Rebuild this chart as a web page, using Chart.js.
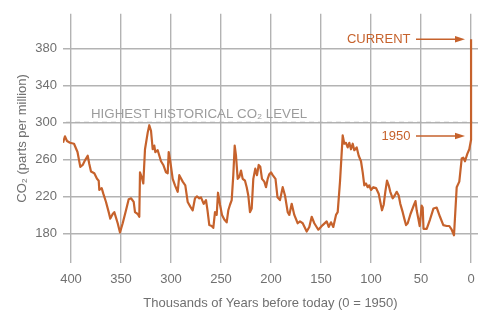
<!DOCTYPE html>
<html>
<head>
<meta charset="utf-8">
<script src="https://cdn.jsdelivr.net/npm/chart.js@4.4.1/dist/chart.umd.min.js"></script>
<style>
  html, body { margin: 0; padding: 0; background: #ffffff; }
  canvas { display: block; }
</style>
</head>
<body>
<canvas id="co2Chart" width="500" height="324"></canvas>
<script>
// Ice-core CO2 record: age in thousands of years before 1950, concentration in ppm
const years = [
  408, 406, 404, 401, 397, 393.5, 390.7, 388.3, 386, 383.3,
  381.7, 380, 376.7, 374, 372.3, 371.7, 369.3, 367.7, 365, 362.3,
  360.7, 358.3, 356.7, 353.3, 351, 348.3, 345, 342.3, 340, 337.3,
  336, 333.3, 331.7, 331, 329.3, 327.7, 326, 323.3, 321.7, 320,
  318.3, 316.7, 315.7, 313.3, 310, 307.7, 305, 303.3, 302.3, 300.7,
  298.3, 296, 293.3, 291.7, 288.3, 285.7, 283.3, 280.7, 278.3, 276,
  274, 271.7, 270, 267.3, 265, 263.5, 261.7, 259.3, 257.7, 256,
  254.3, 253, 251, 249, 246.7, 244.3, 242.7, 241, 239.3, 237.7,
  236.3, 235, 233.3, 231.7, 230, 228.3, 226, 224.3, 222.7, 221,
  219.3, 217.7, 215.7, 214, 212.3, 210.7, 209, 206.7, 205, 203.3,
  201.7, 200, 198.3, 195.5, 193.5, 191, 188.3, 186, 183.3, 181.7,
  179.3, 176.7, 173.3, 171, 168.3, 164.3, 161.7, 159.3, 156.7, 152.7,
  148.3, 144.3, 142.3, 140, 137.7, 135, 133.3, 131, 128.3, 126.7,
  125, 123.3, 121.7, 120, 118.3, 116.7, 114.3, 112.3, 110, 108.3,
  106.7, 105, 103.3, 101.7, 100, 97.7, 95, 92.3, 90.7, 89,
  87.3, 85.7, 84, 82.3, 80.7, 78.3, 76.3, 74.3, 72.3, 70.7,
  68.3, 66.7, 65, 63.3, 60.5, 57, 55.5, 54.3, 52.7, 51.3,
  49.3, 48.3, 47.5, 44.3, 41, 37.5, 34.3, 31, 27.7, 24.3,
  21.7, 19.3, 17, 14.3, 11.7, 9.3, 7.7, 6, 3.7, 1.7,
  0, -0.06
];
const co2 = [
  278, 285, 280, 278, 277, 268, 252, 254, 259, 264,
  255, 247, 245, 239, 237, 227, 229, 223, 214, 203,
  196, 201, 203, 191, 181, 191, 205, 217, 218, 214,
  203, 201, 198, 246, 241, 234, 271, 289, 297, 291,
  271, 275, 268, 270, 258, 254, 246, 245, 268, 258,
  239, 232, 225, 243, 236, 232, 214, 209, 205, 218,
  220, 218, 219, 212, 216, 205, 189, 188, 186, 203,
  200, 224, 211, 200, 195, 192, 205, 211, 216, 243,
  275, 264, 239, 241, 248, 239, 237, 230, 221, 203,
  207, 239, 250, 243, 254, 252, 239, 236, 230, 239,
  244, 246, 243, 239, 219, 216, 230, 221, 203, 200,
  212, 200, 191, 193, 191, 182, 187, 198, 191, 184,
  189, 193, 187, 192, 187, 200, 203, 236, 286, 277,
  278, 273, 278, 271, 277, 270, 273, 264, 258, 246,
  232, 234, 230, 232, 227, 230, 229, 223, 214, 205,
  211, 225, 237, 232, 225, 218, 221, 225, 221, 212,
  203, 196, 189, 191, 201, 211, 215, 205, 196, 188,
  210, 208, 185, 185, 195, 207, 208, 198, 189, 188,
  188, 184, 178, 230, 236, 261, 262, 258, 266, 271,
  281, 390
];

const yearTicks = [400, 350, 300, 250, 200, 150, 100, 50, 0];
const co2Ticks = [180, 220, 260, 300, 340, 380];
const highestLevel = 300;

const orange = '#c6622c';
const gridGray = '#b3b3b3';
const textGray = '#707070';
const fontFamily = '"Liberation Sans", Arial, Helvetica, sans-serif';

Chart.defaults.font.family = fontFamily;
Chart.defaults.font.size = 13;
Chart.defaults.color = textGray;

// Labels for the historical maximum and the two arrow callouts
const callouts = {
  id: 'callouts',
  afterDatasetsDraw(chart) {
    const { ctx, scales: { x, y } } = chart;
    ctx.save();

    ctx.font = '13.3px ' + fontFamily;
    ctx.fillStyle = '#9c9c9c';
    ctx.textAlign = 'left';
    ctx.textBaseline = 'alphabetic';
    ctx.fillText('HIGHEST HISTORICAL CO\u2082 LEVEL', x.getPixelForValue(380), y.getPixelForValue(highestLevel) - 4.5);

    ctx.font = '13px ' + fontFamily;
    const x0 = x.getPixelForValue(0);
    const arrow = (label, yy) => {
      ctx.fillStyle = orange;
      ctx.strokeStyle = orange;
      ctx.textAlign = 'right';
      ctx.textBaseline = 'middle';
      ctx.fillText(label, x0 - 60.5, yy + 0.5);
      ctx.lineWidth = 1.5;
      ctx.beginPath();
      ctx.moveTo(x0 - 55, yy);
      ctx.lineTo(x0 - 15, yy);
      ctx.stroke();
      ctx.beginPath();
      ctx.moveTo(x0 - 6, yy);
      ctx.lineTo(x0 - 16, yy - 3.2);
      ctx.lineTo(x0 - 16, yy + 3.2);
      ctx.closePath();
      ctx.fill();
    };
    arrow('CURRENT', y.getPixelForValue(co2[co2.length - 1]));
    arrow('1950', y.getPixelForValue(co2[years.indexOf(0)]) - 4);
    ctx.restore();
  }
};

new Chart(document.getElementById('co2Chart'), {
  type: 'line',
  data: {
    datasets: [
      {
        data: years.map((yr, i) => ({ x: yr, y: co2[i] })),
        borderColor: orange,
        borderWidth: 2.2,
        pointRadius: 0,
        tension: 0,
        fill: false,
        borderJoinStyle: 'round'
      },
      {
        data: [{ x: 405, y: highestLevel }, { x: -2, y: highestLevel }],
        borderColor: '#b0b0b0',
        borderWidth: 1.3,
        borderDash: [5, 4],
        pointRadius: 0,
        fill: false
      }
    ]
  },
  options: {
    responsive: false,
    animation: false,
    devicePixelRatio: 1,
    layout: { padding: { top: 12, right: 22, left: 0, bottom: 0 } },
    plugins: { legend: { display: false }, tooltip: { enabled: false } },
    scales: {
      x: {
        type: 'linear',
        reverse: true,
        min: -7,
        max: 408,
        afterBuildTicks: s => { s.ticks = yearTicks.map(v => ({ value: v })); },
        afterFit: s => { s.height = 61; },
        grid: { color: gridGray, lineWidth: 1.4, drawTicks: false },
        border: { display: false },
        ticks: { padding: 9, color: textGray, font: { size: 13 }, callback: v => String(v) },
        title: {
          display: true,
          text: 'Thousands of Years before today (0 = 1950)',
          color: textGray,
          font: { size: 13 },
          padding: { top: 0, bottom: 13 }
        }
      },
      y: {
        type: 'linear',
        min: 148,
        max: 417.5,
        afterBuildTicks: s => { s.ticks = co2Ticks.map(v => ({ value: v })); },
        afterFit: s => { s.width = 63; },
        grid: { color: gridGray, lineWidth: 1.4, drawTicks: false },
        border: { display: false },
        ticks: { padding: 6, color: textGray, font: { size: 13 }, callback: v => String(v) },
        title: {
          display: true,
          text: 'CO\u2082 (parts per million)',
          color: textGray,
          font: { size: 13 },
          padding: { top: 15, bottom: 0 }
        }
      }
    }
  },
  plugins: [callouts]
});
</script>
</body>
</html>
